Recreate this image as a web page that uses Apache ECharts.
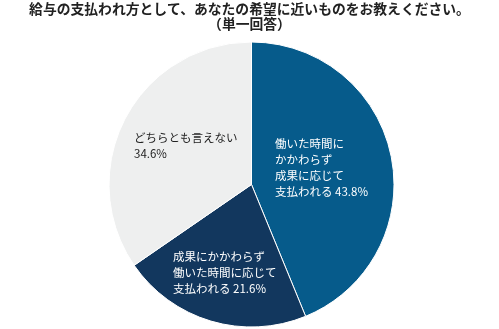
<!DOCTYPE html>
<html><head><meta charset="utf-8">
<script src="https://cdn.jsdelivr.net/npm/echarts@6/dist/echarts.min.js"></script>
<style>html,body{margin:0;padding:0;background:#fff}#c{width:499px;height:329px}</style>
</head><body><div id="c"></div>
<script>
const titleText = '給与の支払われ方として、あなたの希望に近いものをお教えください。\n（単一回答）';
const categories = ['働いた時間に\nかかわらず\n成果に応じて\n支払われる', '成果にかかわらず\n働いた時間に応じて\n支払われる', 'どちらとも言えない\n'];
const values = [43.8, 21.6, 34.6];
const colors = ['#065b8b', '#12375e', '#eeefef'];
const labelColors = ['#ffffff', '#ffffff', '#222222'];
const labelPos = [[275, 136], [173, 249], [134, 130]];

const chart = echarts.init(document.getElementById('c'));
chart.setOption({
  animation: false,
  title: {
    text: titleText, left: 'center', top: 1, padding: 0,
    textStyle: { fontFamily: 'Noto Sans CJK JP', fontSize: 13.8, fontWeight: 'bold', color: '#222', lineHeight: 15 }
  },
  series: [{
    type: 'pie',
    center: [251.5, 184.5],
    radius: 142.5,
    startAngle: 90,
    clockwise: true,
    data: categories.map((c, i) => ({
      name: c, value: values[i],
      itemStyle: { color: colors[i] },
      label: { color: labelColors[i] }
    })),
    itemStyle: { borderColor: '#ffffff', borderWidth: 1 },
    label: {
      show: true, position: 'inside',
      formatter: p => p.name + (p.name.endsWith('\n') ? '' : ' ') + p.value.toFixed(1) + '%',
      fontFamily: 'Noto Sans CJK JP', fontSize: 11.5, lineHeight: 16, align: 'left'
    },
    labelLine: { show: false },
    labelLayout: p => ({ x: labelPos[p.dataIndex][0], y: labelPos[p.dataIndex][1], align: 'left', verticalAlign: 'top' })
  }]
});
</script></body></html>
